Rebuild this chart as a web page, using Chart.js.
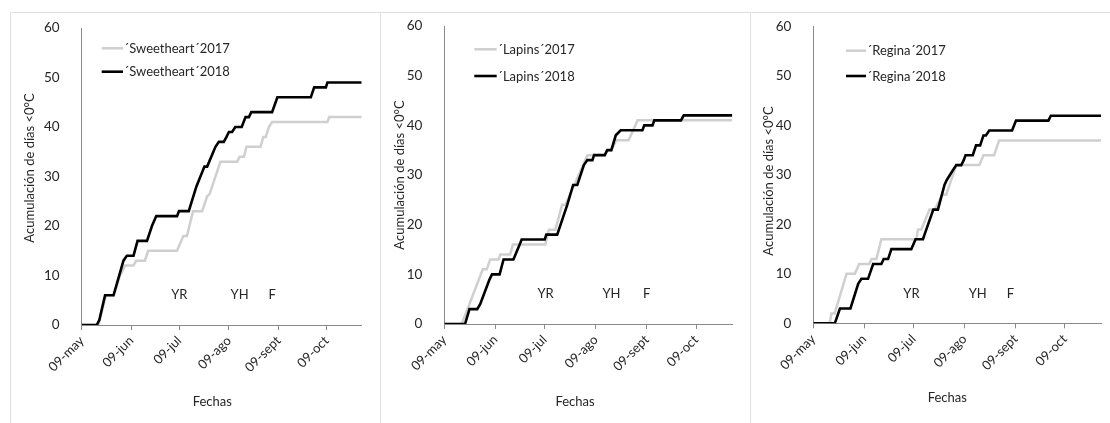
<!DOCTYPE html>
<html><head><meta charset="utf-8">
<script src="https://cdn.jsdelivr.net/npm/chart.js@4.4.1/dist/chart.umd.min.js"></script>
<style>
html,body{margin:0;padding:0;background:#fff;}
#wrap{position:relative;width:1110px;height:423px;overflow:hidden;background:#fff;}
canvas{position:absolute;}
.ln{position:absolute;background:#e0e0e0;z-index:5;}
</style></head><body>
<div id="wrap">
<canvas id="c1" width="370" height="411" style="left:10px;top:12px;width:370px;height:411px"></canvas>
<canvas id="c2" width="370" height="411" style="left:380px;top:12px;width:370px;height:411px"></canvas>
<canvas id="c3" width="360" height="411" style="left:750px;top:12px;width:360px;height:411px"></canvas>
<div class="ln" style="left:10px;top:12px;width:1100px;height:1px"></div>
<div class="ln" style="left:10px;top:12px;width:1px;height:411px"></div>
<div class="ln" style="left:380px;top:12px;width:1px;height:411px"></div>
<div class="ln" style="left:750px;top:12px;width:1px;height:411px"></div>
</div>
<script>
// ---- data (x = days after 09-may) ----
const tickDays = [0, 31, 61, 92, 123, 153];
const tickLabels = ['09-may', '09-jun', '09-jul', '09-ago', '09-sept', '09-oct'];
const xMaxDay = 175;
const yMin = 0, yMax = 60, yStep = 10;
const markerLabels = ['YR', 'YH', 'F'];
const markerValue = 6;

const sweet2017Days = [0, 10.5, 15.2, 20, 24, 27, 32.4, 34, 39.5, 41.5, 59.6, 63.5, 65.8, 69.6, 75.3, 78.4, 80, 86.7, 97.2, 98.7, 101.4, 103, 111.8, 113.5, 115, 117, 119, 153.6, 154.7, 175];
const sweet2017Vals = [0, 0, 6, 6, 10, 12, 12, 13, 13, 15, 15, 18, 18, 23, 23, 26, 26.5, 33, 33, 34, 34, 36, 36, 38, 38, 40, 41, 41, 42, 42];
const sweet2018Days = [0, 9.4, 11, 14.6, 19.9, 26.1, 28.2, 32.4, 34.9, 40.8, 43.9, 46.6, 59.6, 60.8, 66.9, 71.7, 76.7, 78.4, 83.6, 85.7, 88.8, 90.5, 92, 94, 96, 100, 102.4, 104.5, 106, 119, 122.3, 143.2, 145.3, 152.6, 153.6, 175];
const sweet2018Vals = [0, 0, 1, 6, 6, 13, 14, 14, 17, 17, 20, 22, 22, 23, 23, 28, 32, 32, 36, 37, 37, 38, 39, 39, 40, 40, 42, 42, 43, 43, 46, 46, 48, 48, 49, 49];
const sweetMarkerDays = [61, 98.7, 119];

const lapins2017Days = [0, 10.6, 23.4, 25.8, 27.9, 33, 34, 40, 41.7, 61.4, 63.5, 67.5, 71.6, 73.6, 87, 97.5, 99, 101.5, 104.5, 112, 117.4, 175];
const lapins2017Vals = [0, 0, 11, 11, 13, 13, 14, 14, 16, 16, 19, 19, 24, 24, 34, 34, 35, 35, 37, 37, 41, 41];
const lapins2018Days = [0, 12.6, 15.3, 20, 21.8, 27.5, 29, 33.6, 36, 42, 45.8, 47, 61, 62, 68.6, 74.7, 78.3, 80.8, 84.8, 86.9, 90, 91, 97.5, 99, 101.5, 104.2, 107.2, 120.4, 121.5, 126.5, 127.6, 143.8, 145.5, 175];
const lapins2018Vals = [0, 0, 3, 3, 4, 9, 10, 10, 13, 13, 16, 17, 17, 18, 18, 24, 28, 28, 32, 33, 33, 34, 34, 35, 35, 38, 39, 39, 40, 40, 41, 41, 42, 42];
const lapinsMarkerDays = [61.5, 101.6, 123];

const regina2017Days = [0, 10, 11, 13, 20.2, 25.3, 27.9, 34, 35.4, 38.4, 41.4, 62.7, 63.7, 65.7, 70.7, 73.8, 78.4, 80.8, 87, 101, 103.5, 110, 113, 175];
const regina2017Vals = [0, 0, 2, 2, 10, 10, 12, 12, 13, 13, 17, 17, 19, 19, 23, 23, 26, 26, 32, 32, 34, 34, 37, 37];
const regina2018Days = [0, 13.1, 16.2, 22.6, 27.3, 29.3, 33.3, 36.4, 41.4, 42.8, 45.5, 47.5, 59.6, 62.2, 66.7, 67.7, 73, 75.8, 79.8, 81.2, 85, 87, 90, 91.5, 92.6, 97, 99, 101.5, 103.5, 105, 107, 120.9, 123.3, 143, 144.5, 175];
const regina2018Vals = [0, 0, 3, 3, 8, 9, 9, 12, 12, 13, 13, 15, 15, 17, 17, 18, 23, 23, 28, 29, 31, 32, 32, 33, 34, 34, 36, 36, 38, 38, 39, 39, 41, 41, 42, 42];
const reginaMarkerDays = [59.7, 100, 119.9];

// ---- style ----
const FONT_FAMILY = "Lato, 'Open Sans', 'DejaVu Sans', sans-serif";
const FONT_SIZE = 13;
const TEXT = '#262626';
const AXIS = '#8a8a8a';
const GRAY = '#cfcfcf';
const BLACK = '#000000';

function pts(days, vals) { return days.map((d, i) => ({ x: d, y: vals[i] })); }

const textPlugin = {
  id: 'txt',
  afterDraw(chart, args, o) {
    const ctx = chart.ctx, xs = chart.scales.x, ys = chart.scales.y;
    ctx.save();
    ctx.font = FONT_SIZE + 'px ' + FONT_FAMILY;
    ctx.fillStyle = TEXT;
    ctx.textAlign = 'center'; ctx.textBaseline = 'middle';
    o.markerDays.forEach((d, i) => {
      ctx.fillText(markerLabels[i], xs.getPixelForValue(d), ys.getPixelForValue(markerValue));
    });
    const ds = chart.data.datasets;
    ds.forEach((d, i) => {
      const y = o.legY[i];
      ctx.strokeStyle = d.borderColor; ctx.lineWidth = d.borderWidth;
      ctx.beginPath(); ctx.moveTo(o.legX0, y); ctx.lineTo(o.legX1, y); ctx.stroke();
      ctx.textAlign = 'left'; ctx.textBaseline = 'middle';
      ctx.fillText(d.label, o.legX1 + 1, y + 0.5);
    });
    ctx.textAlign = 'center'; ctx.textBaseline = 'middle';
    ctx.fillText('Fechas', o.xTitle[0], o.xTitle[1]);
    ctx.translate(o.yTitle[0], o.yTitle[1]);
    ctx.rotate(-Math.PI / 2);
    ctx.fillText('Acumulación de días <0°C', 0, 0);
    ctx.restore();
  }
};

function makeChart(id, name, d17, v17, d18, v18, markerDays, lay) {
  return new Chart(document.getElementById(id), {
    type: 'line',
    data: {
      datasets: [
        { label: '´' + name + '´2017', data: pts(d17, v17), borderColor: GRAY, borderWidth: 2.5, pointRadius: 0, tension: 0, order: 1, fill: false },
        { label: '´' + name + '´2018', data: pts(d18, v18), borderColor: BLACK, borderWidth: 2.6, pointRadius: 0, tension: 0, order: 0, fill: false }
      ]
    },
    options: {
      responsive: false,
      animation: false,
      devicePixelRatio: 1,
      layout: { padding: { top: lay.top, right: lay.right, left: 0, bottom: 0 } },
      plugins: {
        legend: { display: false },
        tooltip: { enabled: false },
        txt: { markerDays: markerDays, legX0: lay.legX0, legX1: lay.legX1, legY: lay.legY, xTitle: lay.xTitle, yTitle: lay.yTitle }
      },
      scales: {
        x: {
          type: 'linear', min: 0, max: xMaxDay,
          afterBuildTicks: s => { s.ticks = tickDays.map(v => ({ value: v })); },
          afterFit: s => { s.height = lay.xH; s.paddingLeft = 0; s.paddingRight = 0; },
          ticks: {
            autoSkip: false, maxRotation: 45, minRotation: 45, padding: 3,
            color: TEXT, font: { family: FONT_FAMILY, size: FONT_SIZE },
            callback: (v, i) => tickLabels[i]
          },
          grid: { display: true, drawOnChartArea: false, drawTicks: true, tickLength: 5, color: AXIS },
          border: { display: true, color: AXIS, width: 1 }
        },
        y: {
          min: yMin, max: yMax,
          afterFit: s => { s.width = lay.yW; s.paddingTop = 0; s.paddingBottom = 0; },
          ticks: { stepSize: yStep, padding: 14, color: TEXT, font: { family: FONT_FAMILY, size: FONT_SIZE + 0.5 } },
          grid: { display: false },
          border: { display: true, color: AXIS, width: 1 }
        }
      }
    },
    plugins: [textPlugin]
  });
}

makeChart('c1', 'Sweetheart', sweet2017Days, sweet2017Vals, sweet2018Days, sweet2018Vals, sweetMarkerDays,
  { top: 16, right: 18.3, xH: 98, yW: 71.7, legX0: 91.7, legX1: 113, legY: [36.3, 59.7], xTitle: [202.3, 389.7], yTitle: [20, 156] });
makeChart('c2', 'Lapins', lapins2017Days, lapins2017Vals, lapins2018Days, lapins2018Vals, lapinsMarkerDays,
  { top: 14, right: 17.7, xH: 99, yW: 64.3, legX0: 94.3, legX1: 116.7, legY: [37.3, 64], xTitle: [195, 390], yTitle: [20, 163] });
makeChart('c3', 'Regina', regina2017Days, regina2017Vals, regina2018Days, regina2018Vals, reginaMarkerDays,
  { top: 14.7, right: 9, xH: 99.7, yW: 63.3, legX0: 96, legX1: 116, legY: [38.7, 64], xTitle: [197.3, 385.7], yTitle: [19.3, 169] });
</script>
</body></html>
